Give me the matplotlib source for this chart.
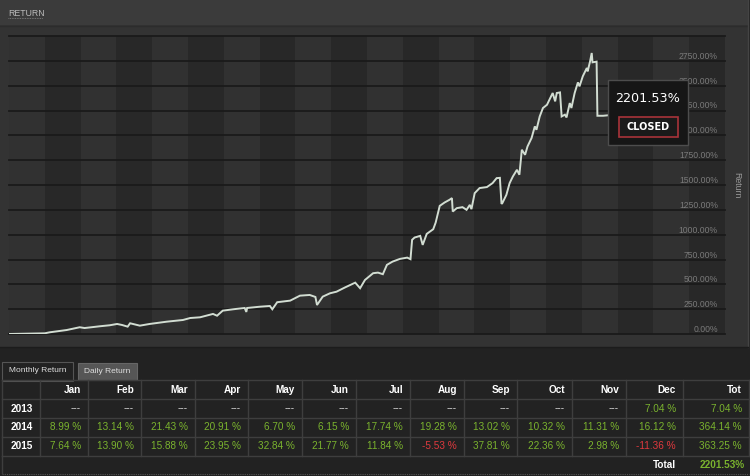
import matplotlib
matplotlib.use("Agg")
import matplotlib.pyplot as plt
from matplotlib.patches import Rectangle
import matplotlib.transforms as mtransforms

W, H = 750, 476

# ---------------- data ----------------
days = [0, 44, 50, 71, 87, 93, 112, 124, 133, 139, 146, 149, 161, 173, 194, 214, 223, 235,
        251, 256, 263, 276, 290, 292, 293, 309, 321, 324, 330, 346, 358, 370, 377, 379, 386,
        395, 403, 413, 426, 432, 438, 448, 454, 460, 465, 472, 481, 490, 494, 496, 499, 506,
        509, 514, 522, 525, 530, 536, 542, 545, 546, 551, 558, 563, 567, 569, 573, 579, 588,
        595, 600, 604, 606, 607, 612, 616, 620, 625, 628, 631, 635, 638, 643, 647, 649, 653,
        657, 662, 665, 669, 672, 674, 678, 680, 684, 686, 690, 692, 696, 700, 702, 706, 711,
        712, 715, 717, 718, 723, 724, 731, 737]
returns = [0, 7, 17, 40, 68, 60, 78, 88, 101, 91, 74, 108, 84, 101, 124, 141, 161, 168,
           202, 184, 235, 249, 262, 222, 262, 275, 282, 249, 320, 336, 386, 393, 373, 292, 376,
           410, 426, 467, 517, 461, 544, 612, 618, 602, 696, 729, 756, 769, 753, 948, 971, 988,
           897, 1008, 1055, 1122, 1290, 1324, 1351, 1368, 1233, 1267, 1277, 1250, 1300, 1257, 1418, 1469, 1479,
           1519, 1569, 1572, 1310, 1317, 1401, 1519, 1586, 1653, 1603, 1855, 1804, 1888, 1973, 2090, 2056, 2190,
           2275, 2308, 2359, 2426, 2342, 2426, 2432, 2190, 2208, 2180, 2325, 2275, 2426, 2533, 2493, 2594, 2678,
           2644, 2745, 2829, 2735, 2742, 2197, 2197, 2201.53]

y_ticks = list(range(0, 3001, 250))
final_return = 2201.53
status_label = "CLOSED"

months = ["Jan", "Feb", "Mar", "Apr", "May", "Jun", "Jul", "Aug", "Sep", "Oct", "Nov", "Dec"]
years = ["2013", "2014", "2015"]
ret_2013 = [None] * 11 + [7.04]
ret_2014 = [8.99, 13.14, 21.43, 20.91, 6.70, 6.15, 17.74, 19.28, 13.02, 10.32, 11.31, 16.12]
ret_2015 = [7.64, 13.90, 15.88, 23.95, 32.84, 21.77, 11.84, -5.53, 37.81, 22.36, 2.98, -11.36]
year_totals = [7.04, 364.14, 363.25]
grand_total = 2201.53

# ---------------- styling ----------------
FONT = ["Liberation Sans", "DejaVu Sans"]
plt.rcParams["font.family"] = FONT
GREEN = "#7ab32e"
RED = "#e0393e"

fig = plt.figure(figsize=(7.5, 4.76), dpi=100, facecolor="#222222")


def fa(x0, y0, x1, y1):
    return [x0 / W, 1 - y1 / H, (x1 - x0) / W, (y1 - y0) / H]


bg = fig.add_axes([0, 0, 1, 1], zorder=0)
bg.set_xlim(0, W)
bg.set_ylim(H, 0)
bg.axis("off")

# chart panel
bg.add_patch(Rectangle((0, 0), 748, 347, fc="#333333", ec="none"))
bg.add_patch(Rectangle((0, 0), 748, 25, fc="#3b3b3b", ec="none"))
bg.plot([0, 748], [25.5, 25.5], color="#2c2c2c", lw=1)
bg.plot([747.5, 747.5], [0, 347], color="#444444", lw=1)
bg.plot([0, 748], [347, 347], color="#1c1c1c", lw=1)
bg.text(8, 13, "RETURN", fontsize=6.3, color="#bbbbbb", va="center", ha="left")
bg.plot([8, 43], [17.5, 17.5], color="#888888", lw=0.6, ls=(0, (1, 1)))
bg.text(737, 185, "Return", rotation=270, fontsize=6.3, color="#999999",
        va="center", ha="center")

# main chart
XMAX = 881
ax = fig.add_axes(fa(9, 36, 725, 334), zorder=1)
ax.set_xlim(0, XMAX)
ax.set_ylim(0, 3000)
ax.set_facecolor("#313131")
for i in range(20):
    if i % 2 == 1:
        ax.axvspan(i * XMAX / 20, (i + 1) * XMAX / 20, color="#282828", lw=0, zorder=0)
for t in y_ticks:
    ax.axhline(t, color="#1a1a1a", lw=1.3, zorder=1, clip_on=False)
for s in ax.spines.values():
    s.set_visible(False)
ax.set_xticks([])
ax.set_yticks([])
trans = mtransforms.blended_transform_factory(ax.transAxes, ax.transData)
off = mtransforms.offset_copy(trans, fig=fig, x=0, y=4.5, units="dots")
for t in y_ticks[:-1]:
    ax.text(0.99, t, f"{t:.2f}%", transform=off, ha="right", va="center",
            fontsize=6.2, color="#7a7a7a", zorder=2)
ax.plot(days, returns, color="#d2ddd2", lw=1.4, zorder=3, solid_joinstyle="miter")

# tooltip overlay
ov = fig.add_axes([0, 0, 1, 1], zorder=5)
ov.set_xlim(0, W)
ov.set_ylim(H, 0)
ov.axis("off")
ov.patch.set_alpha(0)
ov.add_patch(Rectangle((608, 80), 80, 65, fc="#161616", ec="#4d4d4d", lw=1))
ov.text(648, 99, f"{final_return:.2f}%", fontsize=9.2, color="white",
        ha="center", va="center", family=["DejaVu Sans"])
ov.add_patch(Rectangle((618.5, 116.5), 59, 20.5, fc="#1a1a1a", ec="#a8333a", lw=1.2))
ov.text(648, 127, status_label, fontsize=7, color="white", fontweight="bold",
        ha="center", va="center", family=["DejaVu Sans"])

# ---------------- table ----------------
bg.add_patch(Rectangle((2, 362), 71, 19, fc="#222222", ec="#555555", lw=0.8))
bg.text(37.5, 371, "Monthly Return", fontsize=6, color="#dddddd", ha="center", va="center")
bg.add_patch(Rectangle((78, 363), 59, 17, fc="#565656", ec="#666666", lw=0.8))
bg.text(107.5, 371.5, "Daily Return", fontsize=6, color="#dddddd", ha="center", va="center")

col_edges = [2, 40, 88, 141, 195, 248, 302, 356, 410, 464, 517, 572, 626, 683, 749]
row_lines = [380, 399, 418, 437, 456]
row_centers = [408.5, 427.5, 446, 464.5]
LINE = "#3e3e3e"
for y in row_lines:
    bg.plot([2, 749], [y, y], color=LINE, lw=1)
for x in col_edges:
    bg.plot([x, x], [380, 456], color=LINE, lw=1)
bg.plot([2, 2], [456, 473], color=LINE, lw=1)
bg.plot([2, 749], [473.5, 473.5], color="#555555", lw=0.8, ls=(0, (1, 1)))

PAD = 7
headers = months + ["Tot"]
for j, hname in enumerate(headers):
    bg.text(col_edges[j + 2] - PAD, 390, hname, fontsize=7.2, color="white",
            fontweight="bold", ha="right", va="center")

rows = [ret_2013, ret_2014, ret_2015]
for i, (yr, vals, tot) in enumerate(zip(years, rows, year_totals)):
    yc = row_centers[i]
    bg.text(col_edges[1] - PAD, yc, yr, fontsize=7.2, color="white", fontweight="bold",
            ha="right", va="center")
    for j, v in enumerate(vals):
        xr = col_edges[j + 2] - PAD
        if v is None:
            bg.text(xr, yc, "---", fontsize=7.2, color="#dddddd", ha="right", va="center")
        else:
            bg.text(xr, yc, f"{v:.2f} %", fontsize=7.2, color=GREEN if v >= 0 else RED,
                    ha="right", va="center")
    bg.text(col_edges[14] - PAD, yc, f"{tot:.2f} %", fontsize=7.2,
            color=GREEN if tot >= 0 else RED, ha="right", va="center")

bg.text(col_edges[13] - PAD, row_centers[3], "Total", fontsize=7.2, color="white",
        fontweight="bold", ha="right", va="center")
bg.text(col_edges[14] - 4, row_centers[3], f"{grand_total:.2f}%", fontsize=7.2,
        color=GREEN, fontweight="bold", ha="right", va="center")

fig.savefig("out.png", dpi=100, facecolor=fig.get_facecolor())
